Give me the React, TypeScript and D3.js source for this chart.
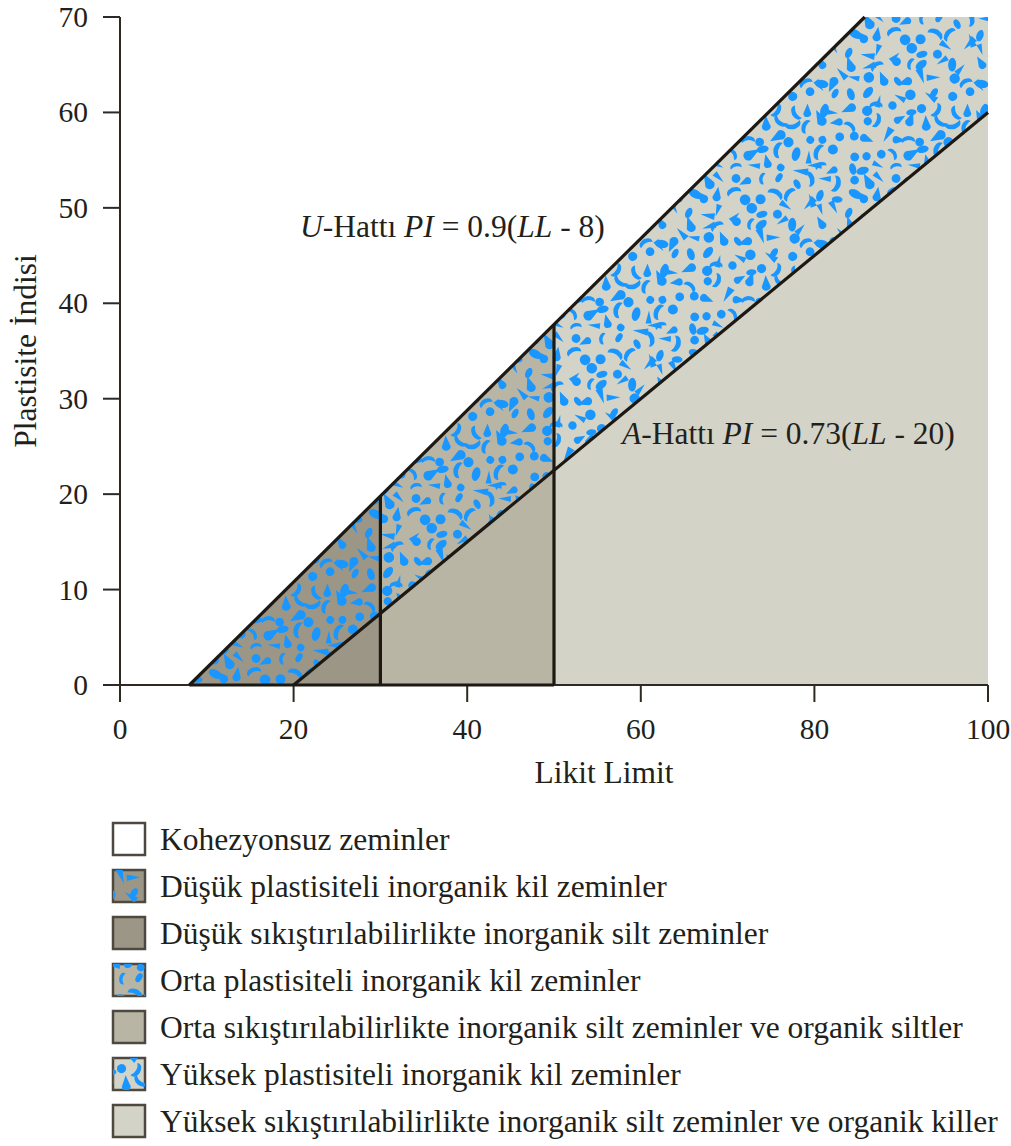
import React from "react";
import * as d3 from "d3";

const W = 1011;
const H = 1146;

// axis ticks
const xTicks = [0, 20, 40, 60, 80, 100];
const yTicks = [0, 10, 20, 30, 40, 50, 60, 70];

// lines: [LL, PI] end points
const uLine = [[8, 0], [85.8, 70]];
const aLine = [[20, 0], [100, 60]];
// LL boundaries between low / medium / high plasticity
const llBounds = [30, 50];

const zoneFill = ["#9c9686", "#b8b5a5", "#d4d3c7"];
const blobColor = "#1a96ff";
const lineColor = "#1d1812";

const legendLabels = [
  "Kohezyonsuz zeminler",
  "Düşük plastisiteli inorganik kil zeminler",
  "Düşük sıkıştırılabilirlikte inorganik silt zeminler",
  "Orta plastisiteli inorganik kil zeminler",
  "Orta sıkıştırılabilirlikte inorganik silt zeminler ve organik siltler",
  "Yüksek plastisiteli inorganik kil zeminler",
  "Yüksek sıkıştırılabilirlikte inorganik silt zeminler ve organik killer",
];
const legendFill = ["#ffffff", zoneFill[0], zoneFill[0], zoneFill[1], zoneFill[1], zoneFill[2], zoneFill[2]];
const legendDots = [false, true, false, true, false, true, false];

const font = '"Liberation Serif", "DejaVu Serif", serif';

const x = d3.scaleLinear().domain([0, 100]).range([120, 988]);
const y = d3.scaleLinear().domain([0, 70]).range([685, 17]);

const uAt = d3.scaleLinear().domain([uLine[0][0], uLine[1][0]]).range([uLine[0][1], uLine[1][1]]);
const aAt = d3.scaleLinear().domain([aLine[0][0], aLine[1][0]]).range([aLine[0][1], aLine[1][1]]);

// decorative texture: seeded so the picture is stable
function makeBlobs(tile: number, n: number) {
  let s = 12345;
  const rnd = () => {
    s = (s * 1103515245 + 12345) % 2147483648;
    return s / 2147483648;
  };
  const cell = tile / n;
  const out: { x: number; y: number; t: number; a: number; k: number }[] = [];
  for (let i = 0; i < n; i++) {
    for (let j = 0; j < n; j++) {
      out.push({
        x: (i + 0.2 + rnd() * 0.6) * cell,
        y: (j + 0.2 + rnd() * 0.6) * cell,
        t: Math.floor(rnd() * 5),
        a: rnd() * 360,
        k: 1.1 + rnd() * 0.5,
      });
    }
  }
  return out;
}

const TILE = 160;
const blobs = makeBlobs(TILE, 11);

function Blob({ b, dx, dy }: { b: any; dx: number; dy: number }) {
  const tr = `translate(${b.x + dx},${b.y + dy}) rotate(${b.a}) scale(${b.k})`;
  if (b.t === 0) return <circle transform={tr} r={3.4} fill={blobColor} />;
  if (b.t === 1) return <ellipse transform={tr} rx={4.4} ry={2.6} fill={blobColor} />;
  if (b.t === 2)
    return <path transform={tr} d="M8,0 L0,3.2 A3.2,3.2 0 1 1 0,-3.2 Z" fill={blobColor} />;
  if (b.t === 3) return <path transform={tr} d="M-1,0 L9,-2.4 L9,2.4 Z" fill={blobColor} />;
  return <path transform={tr} d="M-5,-1.2 Q0,2.5 5,-1.2 Q6.2,3 0,3.8 Q-6.2,3 -5,-1.2 Z" fill={blobColor} />;
}

function BlobPattern() {
  const items: any[] = [];
  blobs.forEach((b, i) => {
    [-TILE, 0, TILE].forEach((dx) =>
      [-TILE, 0, TILE].forEach((dy) => {
        const px = b.x + dx;
        const py = b.y + dy;
        if (px > -16 && px < TILE + 16 && py > -16 && py < TILE + 16)
          items.push(<Blob key={`${i}-${dx}-${dy}`} b={b} dx={dx} dy={dy} />);
      })
    );
  });
  return (
    <pattern id="blobs" patternUnits="userSpaceOnUse" width={TILE} height={TILE}>
      {items}
    </pattern>
  );
}

const poly = (pts: number[][]) => d3.line()(pts.map((p) => [x(p[0]), y(p[1])] as [number, number])) + "Z";

export default function App() {
  const [b1, b2] = llBounds;
  const uTopX = uLine[1][0];

  const clayZones = [
    [[uLine[0][0], 0], [aLine[0][0], 0], [b1, aAt(b1)], [b1, uAt(b1)]],
    [[b1, aAt(b1)], [b1, uAt(b1)], [b2, uAt(b2)], [b2, aAt(b2)]],
    [[b2, aAt(b2)], [b2, uAt(b2)], [uTopX, 70], [100, 70], [100, aAt(100)]],
  ];
  const siltZones = [
    [[aLine[0][0], 0], [b1, aAt(b1)], [b1, 0]],
    [[b1, 0], [b1, aAt(b1)], [b2, aAt(b2)], [b2, 0]],
    [[b2, 0], [b2, aAt(b2)], [100, aAt(100)], [100, 0]],
  ];

  const legendY = (i: number) => 839 + i * 47;

  return (
    <svg width={W} height={H} style={{ position: "absolute", left: 0, top: 0, background: "#fff", fontFamily: font }}>
      <defs>
        <BlobPattern />
      </defs>

      {siltZones.map((z, i) => (
        <path key={`s${i}`} d={poly(z)} fill={zoneFill[i]} />
      ))}
      {clayZones.map((z, i) => (
        <g key={`c${i}`}>
          <path d={poly(z)} fill={zoneFill[i]} />
          <path d={poly(z)} fill="url(#blobs)" />
        </g>
      ))}

      {/* axes */}
      <g stroke="#2e2923" strokeWidth={2} fill="none">
        <line x1={x(0)} x2={x(100)} y1={y(0)} y2={y(0)} />
        <line x1={x(0)} x2={x(0)} y1={y(0)} y2={y(70)} />
        {xTicks.map((t) => (
          <line key={t} x1={x(t)} x2={x(t)} y1={y(0)} y2={y(0) + 17} />
        ))}
        {yTicks.map((t) => (
          <line key={t} x1={x(0) - 17} x2={x(0)} y1={y(t)} y2={y(t)} />
        ))}
      </g>

      {/* classification lines */}
      <g stroke={lineColor} strokeWidth={3.2} fill="none" strokeLinecap="butt">
        <line x1={x(uLine[0][0])} y1={y(0)} x2={x(uLine[1][0])} y2={y(uLine[1][1])} />
        <line x1={x(aLine[0][0])} y1={y(0)} x2={x(aLine[1][0])} y2={y(aLine[1][1])} />
        {llBounds.map((b) => (
          <line key={b} x1={x(b)} x2={x(b)} y1={y(0)} y2={y(uAt(b))} />
        ))}
        <line x1={x(uLine[0][0])} x2={x(b2)} y1={y(0)} y2={y(0)} />
      </g>

      <g fontSize={29.5} fill="#231f1a">
        {xTicks.map((t) => (
          <text key={t} x={x(t)} y={739} textAnchor="middle">
            {t}
          </text>
        ))}
        {yTicks.map((t) => (
          <text key={t} x={88} y={y(t) + 10} textAnchor="end">
            {t}
          </text>
        ))}
      </g>
      <g fontSize={31.5} fill="#231f1a">
        <text x={604} y={783} textAnchor="middle">
          Likit Limit
        </text>
        <text transform="translate(36,351) rotate(-90)" textAnchor="middle">
          Plastisite İndisi
        </text>
        <text x={300} y={237}>
          <tspan fontStyle="italic">U</tspan>-Hattı <tspan fontStyle="italic">PI</tspan> = 0.9(
          <tspan fontStyle="italic">LL</tspan> - 8)
        </text>
        <text x={622} y={444}>
          <tspan fontStyle="italic">A</tspan>-Hattı <tspan fontStyle="italic">PI</tspan> = 0.73(
          <tspan fontStyle="italic">LL</tspan> - 20)
        </text>
      </g>

      {/* legend */}
      <g fontSize={31.5} fill="#231f1a">
        {legendLabels.map((lab, i) => (
          <g key={lab}>
            <rect x={113} y={legendY(i) - 16} width={32} height={32} fill={legendFill[i]} stroke="#4d4840" strokeWidth={2.5} />
            {legendDots[i] && (
              <rect x={113} y={legendY(i) - 16} width={32} height={32} fill="url(#blobs)" />
            )}
            <text x={160} y={legendY(i) + 11}>
              {lab}
            </text>
          </g>
        ))}
      </g>
    </svg>
  );
}
